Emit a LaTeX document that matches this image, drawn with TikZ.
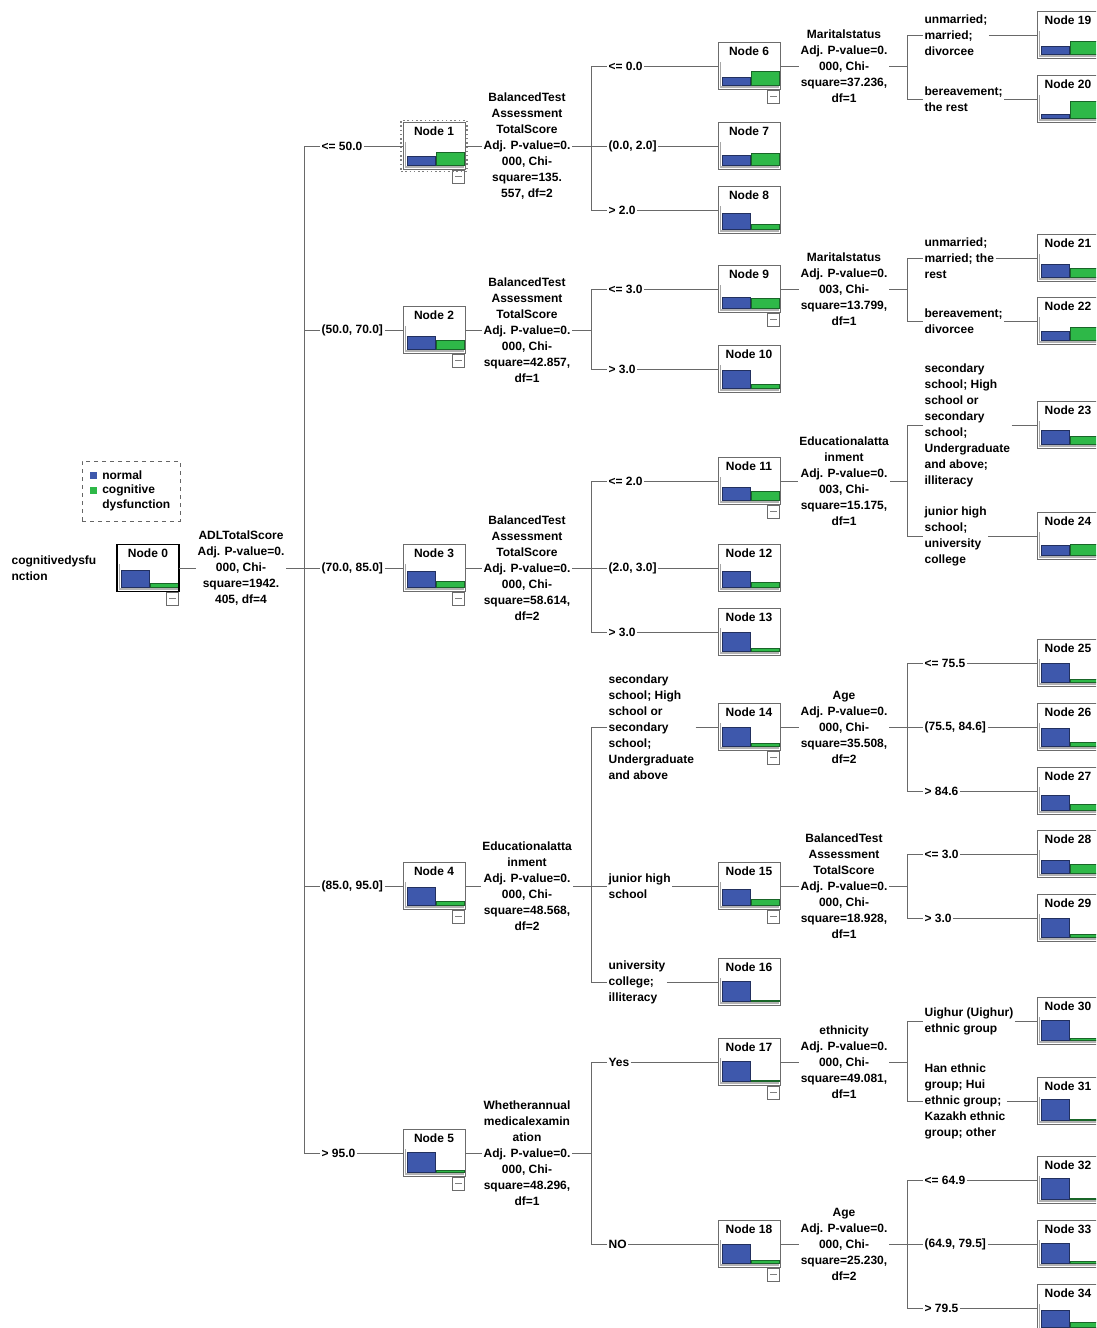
\documentclass[tikz,border=0pt]{standalone}
\usepackage{fontspec}
\setmainfont{Liberation Sans}
\usepackage{xcolor}
\usepackage{tikz}
\usetikzlibrary{positioning,fit,calc}

\definecolor{barblue}{RGB}{62,88,172}
\definecolor{bargreen}{RGB}{46,184,72}
\definecolor{linegray}{RGB}{105,105,105}

% tree node: #1 number, #2 left x, #3 centre y, #4 share of normal
\newcommand{\treenode}[4]{%
  \begin{scope}[shift={(#2,#3)}]
    \node[treebox] (n#1) at (31,0) {};
    \node[treetitle] at (31,-14.5) {Node #1};
    \pgfmathsetmacro{\hblue}{22*#4}
    \pgfmathsetmacro{\hgreen}{22*(1-#4)}
    \fill[barbase] (2,19.5) rectangle (61,21.5);
    \draw[baraxis] (2.5,-4) -- (2.5,20);
    \filldraw[bluebar] (4,19.5) rectangle (32,19.5-\hblue);
    \filldraw[greenbar] (33,19.5) rectangle (61,19.5-\hgreen);
  \end{scope}}

\begin{document}
\begin{tikzpicture}[x=0.75pt, y=-0.75pt,
        treebox/.style={rectangle, draw=gray!85!black, fill=white, line width=0.75pt, minimum width=46.5pt, minimum height=35.25pt, inner sep=0pt, outer sep=0pt},
        treetitle/.style={font=\fontsize{9}{12}\selectfont\bfseries, inner sep=0pt},
        barbase/.style={fill=gray!60},
        baraxis/.style={draw=gray!70, line width=0.6pt},
        bluebar/.style={fill=barblue, draw=barblue!55!black, line width=0.5pt},
        greenbar/.style={fill=bargreen, draw=bargreen!55!black, line width=0.5pt},
        stattext/.style={font=\fontsize{9}{12}\selectfont\bfseries, align=center, fill=white, inner sep=1pt},
        condlabel/.style={font=\fontsize{9}{12}\selectfont\bfseries, align=left, fill=white, inner sep=1pt, anchor=west},
        minusbox/.style={rectangle, draw=gray!85!black, fill=white, line width=0.6pt, minimum width=9pt, minimum height=9.75pt, inner sep=0pt, anchor=north east,
            path picture={\draw[gray, line width=0.6pt] ([xshift=-2.5pt]path picture bounding box.center) -- ([xshift=2.5pt]path picture bounding box.center);}},
        selectbox/.style={rectangle, draw=gray, dotted, line width=1.2pt, inner sep=1.5pt},
        legendbox/.style={rectangle, draw=gray!80!black, dashed, line width=0.6pt, minimum width=73.5pt, minimum height=45pt},
        legsquare/.style={rectangle, minimum size=5.25pt, inner sep=0pt},
        legtext/.style={font=\fontsize{9}{11.25}\selectfont\bfseries, align=left, inner sep=0pt, anchor=west},
        conn/.style={draw=linegray, line width=0.75pt}
    ]
    \clip (0,0) rectangle (1096,1328);

    % === Tree nodes ===
    \foreach \n/\x/\y/\p in {0/117/568/0.80, 1/403/146/0.42, 2/403/330/0.58, 3/403/568/0.72, 4/403/886/0.83, 5/403/1153/0.90,
        6/718/66/0.35, 7/718/146/0.45, 8/718/210/0.75, 9/718/289/0.52, 10/718/369/0.82, 11/718/481/0.58, 12/718/568/0.75,
        13/718/632/0.85, 14/718/727/0.85, 15/718/886/0.72, 16/718/982/0.93, 17/718/1062/0.93, 18/718/1244/0.87,
        19/1037/35/0.38, 20/1037/99/0.20, 21/1037/258/0.58, 22/1037/321/0.40, 23/1037/425/0.65, 24/1037/536/0.47,
        25/1037/663/0.85, 26/1037/727/0.82, 27/1037/791/0.70, 28/1037/854/0.60, 29/1037/918/0.85, 30/1037/1021/0.92,
        31/1037/1101/0.95, 32/1037/1180/0.96, 33/1037/1244/0.92, 34/1037/1308/0.77}
        {\treenode{\n}{\x}{\y}{\p}}
    \draw[black, line width=1.4pt] (n0.south west) rectangle (n0.north east);

    % collapse boxes
    \foreach \p in {0,1,2,3,4,5,6,9,11,14,15,17,18}
        \node[minusbox] (m\p) at (n\p.south east) {};

    % selected node
    \node[selectbox, fit=(n1)] (sel) {};

    % === Legend and target ===
    \node[legendbox] (legend) at (131,491) {};
    \node[legsquare, fill=barblue] (sqnormal) at (93.5,475) {};
    \node[legtext] (legnormal) at (102,475) {normal};
    \node[legsquare, fill=bargreen] (sqcog) at (93.5,490) {};
    \node[legtext, anchor=north west] (legcog) at (102,484.5) {cognitive\\dysfunction};
    \node[condlabel] (target) at (10,568) {cognitivedysfu\\nction};

    % === Split statistics ===
    \node[stattext] (s0) at (241,568) {ADLTotalScore\\Adj. P-value=0.\\000, Chi-\\square=1942.\\405, df=4};
    \node[stattext] (s1) at (527,146) {BalancedTest\\Assessment\\TotalScore\\Adj. P-value=0.\\000, Chi-\\square=135.\\557, df=2};
    \node[stattext] (s2) at (527,330) {BalancedTest\\Assessment\\TotalScore\\Adj. P-value=0.\\000, Chi-\\square=42.857,\\df=1};
    \node[stattext] (s3) at (527,568) {BalancedTest\\Assessment\\TotalScore\\Adj. P-value=0.\\000, Chi-\\square=58.614,\\df=2};
    \node[stattext] (s4) at (527,886) {Educationalatta\\inment\\Adj. P-value=0.\\000, Chi-\\square=48.568,\\df=2};
    \node[stattext] (s5) at (527,1153) {Whetherannual\\medicalexamin\\ation\\Adj. P-value=0.\\000, Chi-\\square=48.296,\\df=1};
    \node[stattext] (s6) at (844,66) {Maritalstatus\\Adj. P-value=0.\\000, Chi-\\square=37.236,\\df=1};
    \node[stattext] (s9) at (844,289) {Maritalstatus\\Adj. P-value=0.\\003, Chi-\\square=13.799,\\df=1};
    \node[stattext] (s11) at (844,481) {Educationalatta\\inment\\Adj. P-value=0.\\003, Chi-\\square=15.175,\\df=1};
    \node[stattext] (s14) at (844,727) {Age\\Adj. P-value=0.\\000, Chi-\\square=35.508,\\df=2};
    \node[stattext] (s15) at (844,886) {BalancedTest\\Assessment\\TotalScore\\Adj. P-value=0.\\000, Chi-\\square=18.928,\\df=1};
    \node[stattext] (s17) at (844,1062) {ethnicity\\Adj. P-value=0.\\000, Chi-\\square=49.081,\\df=1};
    \node[stattext] (s18) at (844,1244) {Age\\Adj. P-value=0.\\000, Chi-\\square=25.230,\\df=2};

    % fork points
    \coordinate (f0) at (304,568);
    \foreach \p/\y in {1/146, 2/330, 3/568, 4/886, 5/1153}
        \coordinate (f\p) at (591,\y);
    \foreach \p/\y in {6/66, 9/289, 11/481, 14/727, 15/886, 17/1062, 18/1244}
        \coordinate (f\p) at (907,\y);

    % === Branch labels ===
    \node[condlabel] (l1) at (320,146) {<= 50.0};
    \node[condlabel] (l2) at (320,330) {(50.0, 70.0]};
    \node[condlabel] (l3) at (320,568) {(70.0, 85.0]};
    \node[condlabel] (l4) at (320,886) {(85.0, 95.0]};
    \node[condlabel] (l5) at (320,1153) {> 95.0};

    \node[condlabel] (l6) at (607,66) {<= 0.0};
    \node[condlabel] (l7) at (607,146) {(0.0, 2.0]};
    \node[condlabel] (l8) at (607,210) {> 2.0};
    \node[condlabel] (l9) at (607,289) {<= 3.0};
    \node[condlabel] (l10) at (607,369) {> 3.0};
    \node[condlabel] (l11) at (607,481) {<= 2.0};
    \node[condlabel] (l12) at (607,568) {(2.0, 3.0]};
    \node[condlabel] (l13) at (607,632) {> 3.0};
    \node[condlabel] (l14) at (607,727) {secondary\\school; High\\school or\\secondary\\school;\\Undergraduate\\and above};
    \node[condlabel] (l15) at (607,886) {junior high\\school};
    \node[condlabel] (l16) at (607,982) {university\\college;\\illiteracy};
    \node[condlabel] (l17) at (607,1062) {Yes};
    \node[condlabel] (l18) at (607,1244) {NO};

    \node[condlabel] (l19) at (923,35) {unmarried;\\married;\\divorcee};
    \node[condlabel] (l20) at (923,99) {bereavement;\\the rest};
    \node[condlabel] (l21) at (923,258) {unmarried;\\married; the\\rest};
    \node[condlabel] (l22) at (923,321) {bereavement;\\divorcee};
    \node[condlabel] (l23) at (923,425) {secondary\\school; High\\school or\\secondary\\school;\\Undergraduate\\and above;\\illiteracy};
    \node[condlabel] (l24) at (923,536) {junior high\\school;\\university\\college};
    \node[condlabel] (l25) at (923,663) {<= 75.5};
    \node[condlabel] (l26) at (923,727) {(75.5, 84.6]};
    \node[condlabel] (l27) at (923,791) {> 84.6};
    \node[condlabel] (l28) at (923,854) {<= 3.0};
    \node[condlabel] (l29) at (923,918) {> 3.0};
    \node[condlabel] (l30) at (923,1021) {Uighur (Uighur)\\ethnic group};
    \node[condlabel] (l31) at (923,1101) {Han ethnic\\group; Hui\\ethnic group;\\Kazakh ethnic\\group; other};
    \node[condlabel] (l32) at (923,1180) {<= 64.9};
    \node[condlabel] (l33) at (923,1244) {(64.9, 79.5]};
    \node[condlabel] (l34) at (923,1308) {> 79.5};

    % === Connectors ===
    % parent box -> statistics -> fork
    \foreach \p in {0,1,2,3,4,5,6,9,11,14,15,17,18} {
        \draw[conn] (n\p.east) -- (s\p.west);
        \draw[conn] (s\p.east) -- (f\p);
    }

    % vertical fork lines
    \foreach \f/\a/\b in {0/1/5, 1/6/8, 2/9/10, 3/11/13, 4/14/16, 5/17/18,
        6/19/20, 9/21/22, 11/23/24, 14/25/27, 15/28/29, 17/30/31, 18/32/34}
        \draw[conn] (f\f |- l\a.west) -- (f\f |- l\b.west);

    % fork -> label -> child box
    \foreach \f/\c in {0/1, 0/2, 0/3, 0/4, 0/5, 1/6, 1/7, 1/8, 2/9, 2/10, 3/11, 3/12, 3/13,
        4/14, 4/15, 4/16, 5/17, 5/18, 6/19, 6/20, 9/21, 9/22, 11/23, 11/24, 14/25, 14/26, 14/27,
        15/28, 15/29, 17/30, 17/31, 18/32, 18/33, 18/34} {
        \draw[conn] (f\f |- l\c.west) -- (l\c.west);
        \draw[conn] (l\c.east) -- (n\c.west);
    }

\end{tikzpicture}
\end{document}
